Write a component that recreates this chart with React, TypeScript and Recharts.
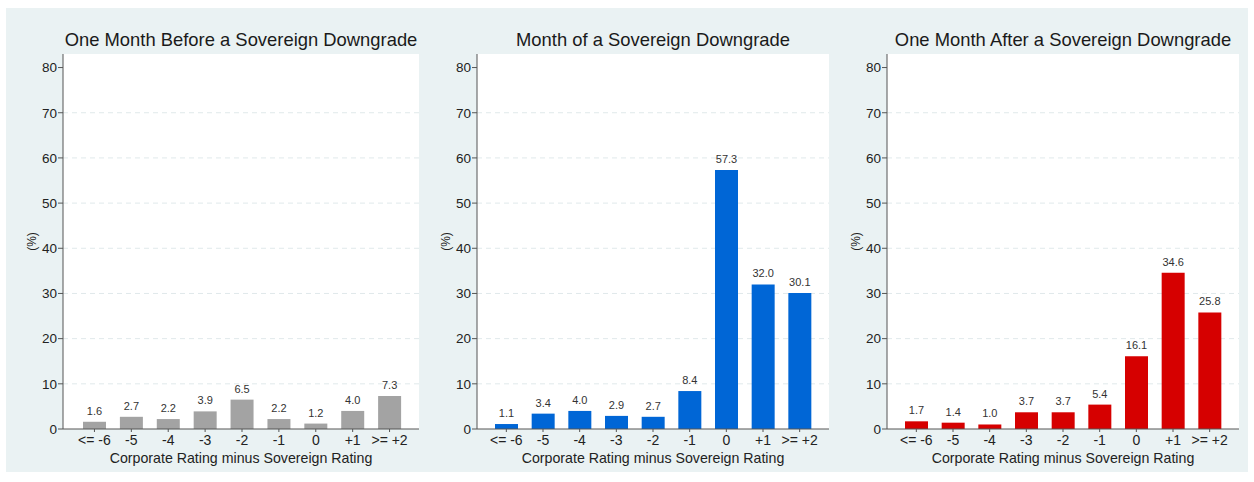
import React from "react";
import {
  BarChart,
  Bar,
  XAxis,
  YAxis,
  CartesianGrid,
  LabelList,
} from "recharts";

const categories = ["<= -6", "-5", "-4", "-3", "-2", "-1", "0", "+1", ">= +2"];
const beforeValues = [1.6, 2.7, 2.2, 3.9, 6.5, 2.2, 1.2, 4.0, 7.3];
const monthValues = [1.1, 3.4, 4.0, 2.9, 2.7, 8.4, 57.3, 32.0, 30.1];
const afterValues = [1.7, 1.4, 1.0, 3.7, 3.7, 5.4, 16.1, 34.6, 25.8];
const yTicks = [0, 10, 20, 30, 40, 50, 60, 70, 80];
const gridValues = [10, 20, 30, 40, 50, 60, 70];

const FONT = "'Liberation Sans', Arial, Helvetica, sans-serif";
const BG = "#eaf2f3";

interface PanelProps {
  title: string;
  values: number[];
  color: string;
  axisX: number; // plot left edge (page px)
  rightX: number; // plot right edge (page px)
  padLeft: number;
  padRight: number;
}

function Panel({ title, values, color, axisX, rightX, padLeft, padRight }: PanelProps) {
  const data = categories.map((c, i) => ({ cat: c, value: values[i] }));
  const width = rightX - axisX + 65;
  const left = axisX - 60;
  return (
    <>
      <div
        style={{
          position: "absolute",
          left: axisX - 20,
          width: rightX - axisX + 40,
          top: 29,
          textAlign: "center",
          fontFamily: FONT,
          fontSize: 18.4,
          color: "#1a1a1a",
          whiteSpace: "nowrap",
        }}
      >
        {title}
      </div>
      <div style={{ position: "absolute", left, top: 0 }}>
        <BarChart
          width={width}
          height={482}
          data={data}
          margin={{ top: 54, right: 5, left: 0, bottom: 0 }}
        >
          <CartesianGrid
            fill="#ffffff"
            vertical={false}
            horizontalValues={gridValues}
            stroke="#e0e9eb"
            strokeDasharray="5 4"
          />
          <XAxis
            dataKey="cat"
            height={53}
            interval={0}
            padding={{ left: padLeft, right: padRight }}
            tickSize={3}
            tickMargin={3}
            tick={{ fontSize: 14, fill: "#222", fontFamily: FONT }}
            stroke="#555"
            label={{
              value: "Corporate Rating minus Sovereign Rating",
              position: "insideBottom",
              offset: 19,
              fontSize: 14.2,
              fill: "#222",
              fontFamily: FONT,
            }}
          />
          <YAxis
            width={60}
            domain={[0, 83]}
            ticks={yTicks}
            interval={0}
            tickSize={5}
            tickMargin={1}
            tick={{ fontSize: 13.5, fill: "#222", fontFamily: FONT }}
            stroke="#555"
            label={(props: any) => {
              const vb = props.viewBox || {};
              const x = (vb.x ?? 0) + 29;
              const y = (vb.y ?? 0) + (vb.height ?? 0) / 2;
              return (
                <text
                  x={x}
                  y={y}
                  transform={`rotate(-90 ${x} ${y})`}
                  textAnchor="middle"
                  dominantBaseline="central"
                  fontSize={12}
                  fill="#222"
                  fontFamily={FONT}
                >
                  (%)
                </text>
              );
            }}
          />
          <Bar
            dataKey="value"
            fill={color}
            barSize={23}
            isAnimationActive={false}
          >
            <LabelList
              dataKey="value"
              position="top"
              offset={7}
              formatter={(v: any) => Number(v).toFixed(1)}
              style={{ fontSize: 11, fill: "#333", fontFamily: FONT }}
            />
          </Bar>
        </BarChart>
      </div>
    </>
  );
}

export default function App() {
  return (
    <div
      style={{
        position: "absolute",
        left: 0,
        top: 0,
        width: 1254,
        height: 482,
        background: "#ffffff",
        overflow: "hidden",
      }}
    >
      <div
        style={{
          position: "absolute",
          left: 6,
          top: 8,
          width: 1242,
          height: 464,
          background: BG,
        }}
      />
      <Panel
        title="One Month Before a Sovereign Downgrade"
        values={beforeValues}
        color="#a3a3a3"
        axisX={63}
        rightX={419}
        padLeft={13}
        padRight={11}
      />
      <Panel
        title="Month of a Sovereign Downgrade"
        values={monthValues}
        color="#0066d6"
        axisX={477}
        rightX={829}
        padLeft={11}
        padRight={11}
      />
      <Panel
        title="One Month After a Sovereign Downgrade"
        values={afterValues}
        color="#d60000"
        axisX={887}
        rightX={1239}
        padLeft={11}
        padRight={11}
      />
    </div>
  );
}
